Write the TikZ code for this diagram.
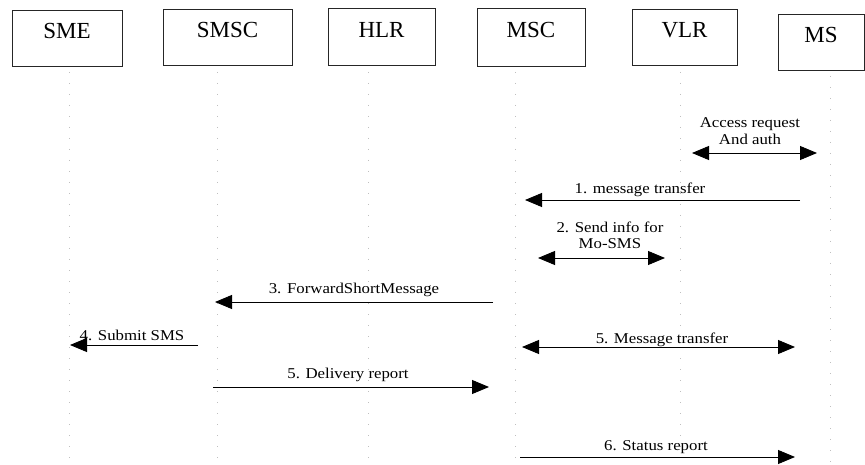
\documentclass[tikz,border=0pt]{standalone}
\usepackage{fontspec}
\setmainfont{Liberation Serif}
\newfontfamily\lblfont[FakeStretch=1.12]{Liberation Serif}
\usetikzlibrary{arrows.meta}
\tikzset{
  box/.style={draw=black!85, line width=0.8pt, inner sep=0pt, text depth=14pt,
              font=\fontsize{23}{26}\selectfont},
  msg/.style={anchor=base, inner sep=0pt, font=\lblfont\fontsize{15}{17}\selectfont},
  msgml/.style={msg, align=center},
  conn/.style={line width=0.9pt, -{Triangle[length=17pt,width=14pt]}},
  conn2/.style={line width=0.9pt, {Triangle[length=17pt,width=14pt]}-{Triangle[length=17pt,width=14pt]}},
  life/.style={black!25, line width=0.6pt, dash pattern=on 1pt off 10pt}
}
\begin{document}
\begin{tikzpicture}[x=1pt,y=-1pt]
\useasboundingbox (0,0) rectangle (865,465);
% boxes
\node[box, minimum width=110pt, minimum height=56pt] (sme)  at (67,38)    {SME};
\node[box, minimum width=129pt, minimum height=56pt] (smsc) at (227.5,37) {SMSC};
\node[box, minimum width=107pt, minimum height=57pt] (hlr)  at (381.5,37) {HLR};
\node[box, minimum width=108pt, minimum height=58pt] (msc)  at (531,37)   {MSC};
\node[box, minimum width=105pt, minimum height=56pt] (vlr)  at (684.5,37) {VLR};
\node[box, minimum width=86pt,  minimum height=56pt] (ms)   at (821,42)   {MS};
% lifelines
\coordinate (lsme1) at (69,72);   \coordinate (lsme2) at (69,465);
\coordinate (lsmsc1) at (217,72); \coordinate (lsmsc2) at (217,465);
\coordinate (lhlr1) at (368,72);  \coordinate (lhlr2) at (368,465);
\coordinate (lmsc1) at (515,72);  \coordinate (lmsc2) at (515,465);
\coordinate (lvlr1) at (680,72);  \coordinate (lvlr2) at (680,465);
\coordinate (lms1) at (830,76);   \coordinate (lms2) at (830,465);
\foreach \n in {sme,smsc,hlr,msc,vlr,ms} \draw[life] (l\n1) -- (l\n2);
% message endpoints
\coordinate (ar1) at (692,153); \coordinate (ar2) at (817,153);
\coordinate (m1a) at (800,200); \coordinate (m1b) at (525,200);
\coordinate (m2a) at (538,258); \coordinate (m2b) at (665,258);
\coordinate (m3a) at (493,302); \coordinate (m3b) at (215,302);
\coordinate (m4a) at (198,345); \coordinate (m4b) at (70,345);
\coordinate (m5a) at (213,387); \coordinate (m5b) at (489,387);
\coordinate (m6a) at (522,347); \coordinate (m6b) at (795,347);
\coordinate (m7a) at (520,457); \coordinate (m7b) at (795,457);
% connectors
\draw[conn2] (ar1) -- (ar2);
\draw[conn]  (m1a) -- (m1b);
\draw[conn2] (m2a) -- (m2b);
\draw[conn]  (m3a) -- (m3b);
\draw[conn]  (m4a) -- (m4b);
\draw[conn]  (m5a) -- (m5b);
\draw[conn2] (m6a) -- (m6b);
\draw[conn]  (m7a) -- (m7b);
% labels
\node[msgml] (tar) at (750,145) {Access request\\And auth};
\node[msg] (t1) at (640,194) {1. message transfer};
\node[msgml] (t2) at (610,249) {2. Send info for\\Mo-SMS};
\node[msg] (t3) at (354,294) {3. ForwardShortMessage};
\node[msg] (t4) at (132,340) {4. Submit SMS};
\node[msg] (t5) at (348,378) {5. Delivery report};
\node[msg] (t6) at (662,343) {5. Message transfer};
\node[msg] (t7) at (656,450) {6. Status report};
\end{tikzpicture}
\end{document}
